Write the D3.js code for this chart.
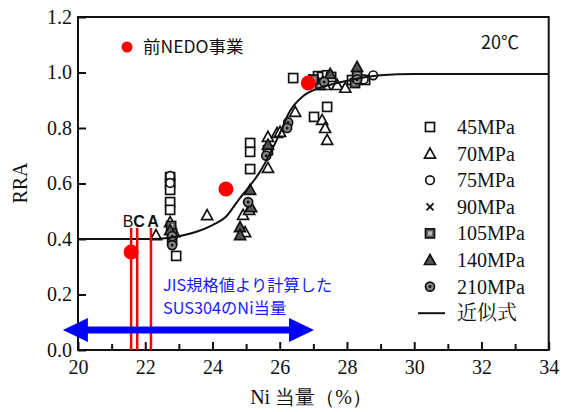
<!DOCTYPE html>
<html><head><meta charset="utf-8">
<script src="https://cdn.jsdelivr.net/npm/d3@7"></script>
<style>body{margin:0;background:#fff}svg{display:block}</style>
</head><body>
<svg id="c" width="567" height="412"></svg>
<script>
// ---- data ----
const xTicks = [20,21,22,23,24,25,26,27,28,29,30,31,32,33,34];
const yTicks = [0,0.2,0.4,0.6,0.8,1.0,1.2];
const s45 = [[22.74,0.623],[22.74,0.602],[22.74,0.577],[22.74,0.533],[22.74,0.505],[22.92,0.339],[25.12,0.746],[25.12,0.714],[25.12,0.652],[26.4,0.98],[27.14,0.987],[27.26,0.984],[27.41,0.99],[27.53,0.984],[27.41,0.876],[27.02,0.84],[28.15,0.973],[28.54,0.973]];
const s70 = [[22.32,0.414],[22.74,0.461],[22.86,0.425],[23.84,0.486],[24.91,0.487],[24.97,0.425],[25.09,0.505],[25.65,0.656],[25.65,0.768],[25.92,0.782],[26.01,0.786],[26.46,0.858],[27.35,0.955],[27.26,0.829],[27.35,0.80],[27.41,0.757],[27.71,0.955],[27.95,0.945]];
const s75 = [[22.74,0.627],[22.74,0.602],[28.78,0.99],[28.5,0.975]];
const s90 = [[22.8,0.40],[27.2,0.975]];
const s105 = [[22.8,0.396],[22.77,0.447],[25.65,0.72],[27.2,0.955],[28.24,0.962],[28.3,0.99],[27.0,0.975],[22.8,0.42]];
const s140 = [[28.3,1.02],[25.12,0.577],[24.82,0.443],[24.82,0.414],[25.65,0.74],[22.74,0.432],[27.5,0.995],[25.15,0.515]];
const s210 = [[26.25,0.82],[26.22,0.80],[22.8,0.378],[25.06,0.533],[25.6,0.70],[27.32,0.966],[28.3,0.975],[22.8,0.41]];
const fitX = [20,21,22,22.5,23,23.5,24,24.4,24.8,25.1,25.4,25.7,26.0,26.3,26.7,27.2,27.8,28.4,29,30,32,34];
const fitY = [0.40,0.40,0.40,0.402,0.41,0.425,0.45,0.48,0.545,0.59,0.64,0.705,0.78,0.86,0.915,0.945,0.965,0.98,0.99,0.995,0.995,0.995];
const nedo = [[21.58,0.353],[24.4,0.58],[26.85,0.962]];
const refLabels = ["B","C","A"];
const refX = [21.58,21.76,22.17];
const refTop = 0.44;
const arrowRange = [19.55,27.02];
const arrowY = 0.072;
const legendLabels = ["45MPa","70MPa","75MPa","90MPa","105MPa","140MPa","210MPa","近似式"];

// ---- chart ----
const svg = d3.select("#c");
const L=78,R=548.7,T=17,B=350;
const x = d3.scaleLinear().domain([20,34]).range([L,R]);
const y = d3.scaleLinear().domain([0,1.2]).range([B,T]);
const serif = "'Liberation Serif','Times New Roman',serif";
const sans = "'Noto Sans CJK JP','Noto Sans',sans-serif";

// frame
svg.append("rect").attr("x",L).attr("y",T).attr("width",R-L).attr("height",B-T)
  .attr("fill","none").attr("stroke","#111").attr("stroke-width",2);

// axes
const xa = svg.append("g").attr("transform",`translate(0,${B})`)
  .call(d3.axisBottom(x).tickValues(xTicks).tickSize(0).tickFormat(d=>d%2===0?d:""));
xa.select(".domain").remove();
xa.selectAll(".tick text").attr("font-family",serif).attr("font-size",20).attr("fill","#111").attr("dy","1.05em");
xa.selectAll(".tick").append("line").attr("y1",0).attr("y2",d=>d%2===0?-8:-6).attr("stroke","#111").attr("stroke-width",2);
const ya = svg.append("g").attr("transform",`translate(${L},0)`)
  .call(d3.axisLeft(y).tickValues(yTicks).tickSize(0).tickFormat(d3.format(".1f")));
ya.select(".domain").remove();
ya.selectAll(".tick text").attr("font-family",serif).attr("font-size",20).attr("fill","#111").attr("dx","-3");
ya.selectAll(".tick").append("line").attr("x1",0).attr("x2",8).attr("stroke","#111").attr("stroke-width",2);

svg.append("text").attr("x",311).attr("y",404).attr("text-anchor","middle")
  .attr("font-family",serif).attr("font-size",20).attr("fill","#111").text("Ni 当量（%）");
svg.append("text").attr("transform","translate(27,183) rotate(-90)").attr("text-anchor","middle")
  .attr("font-family",serif).attr("font-size",20).attr("fill","#111").text("RRA");

// markers
function drawMarker(g,type,cx,cy){
  if(type==="sq") g.append("rect").attr("x",cx-4.5).attr("y",cy-4.5).attr("width",9).attr("height",9).attr("fill","#fff").attr("stroke","#111").attr("stroke-width",1.7);
  if(type==="tri") g.append("path").attr("d",`M${cx},${cy-5.5}L${cx+5.5},${cy+4.5}L${cx-5.5},${cy+4.5}Z`).attr("fill","#fff").attr("stroke","#111").attr("stroke-width",1.7);
  if(type==="circ") g.append("circle").attr("cx",cx).attr("cy",cy).attr("r",4.3).attr("fill","#fff").attr("stroke","#111").attr("stroke-width",1.7);
  if(type==="x") g.append("path").attr("d",`M${cx-3.5},${cy-3.5}L${cx+3.5},${cy+3.5}M${cx+3.5},${cy-3.5}L${cx-3.5},${cy+3.5}`).attr("stroke","#111").attr("stroke-width",1.8);
  if(type==="fsq"){ g.append("rect").attr("x",cx-4.5).attr("y",cy-4.5).attr("width",9).attr("height",9).attr("fill","#666").attr("stroke","#111").attr("stroke-width",1.7);
    g.append("rect").attr("x",cx-2).attr("y",cy-2).attr("width",4).attr("height",4).attr("fill","#bbb");}
  if(type==="ftri") g.append("path").attr("d",`M${cx},${cy-5.5}L${cx+5.5},${cy+4.5}L${cx-5.5},${cy+4.5}Z`).attr("fill","#555").attr("stroke","#111").attr("stroke-width",1.7);
  if(type==="dcirc"){ g.append("circle").attr("cx",cx).attr("cy",cy).attr("r",4.5).attr("fill","#888").attr("stroke","#111").attr("stroke-width",1.7);
    g.append("circle").attr("cx",cx).attr("cy",cy).attr("r",1.5).attr("fill","#111");}
}
const series = [[s45,"sq"],[s70,"tri"],[s75,"circ"],[s90,"x"],[s105,"fsq"],[s140,"ftri"],[s210,"dcirc"]];
const mg = svg.append("g");
series.forEach(([data,type])=>data.forEach(d=>drawMarker(mg,type,x(d[0]),y(d[1]))));

// fit curve
const fit = fitX.map((v,i)=>[v,fitY[i]]);
svg.append("path").datum(fit).attr("fill","none").attr("stroke","#111").attr("stroke-width",2)
  .attr("d",d3.line().x(d=>x(d[0])).y(d=>y(d[1])).curve(d3.curveMonotoneX));

// legend
const lg = svg.append("g");
const types = ["sq","tri","circ","x","fsq","ftri","dcirc"];
legendLabels.forEach((t,i)=>{
  const ly = 127 + i*26.6;
  if(i<7) drawMarker(lg,types[i],430,ly);
  else lg.append("line").attr("x1",418).attr("x2",445).attr("y1",ly).attr("y2",ly).attr("stroke","#111").attr("stroke-width",2);
  lg.append("text").attr("x",457).attr("y",ly).attr("dy","0.35em").attr("font-family",i<7?serif:"'Noto Serif CJK JP','Noto Sans CJK JP',serif")
    .attr("font-size",20).attr("fill","#111").text(t);
});

svg.append("text").attr("x",481).attr("y",49).attr("font-family",sans).attr("font-size",18).attr("fill","#111").text("20℃");

// red reference lines
refX.forEach((v,i)=>{
  svg.append("line").attr("x1",x(v)).attr("x2",x(v)).attr("y1",y(0)).attr("y2",y(refTop)).attr("stroke","#ff0000").attr("stroke-width",2.5);
});
const lf = "'Liberation Sans',Arial,sans-serif";
svg.append("text").attr("x",128).attr("y",227).attr("text-anchor","middle").attr("font-family",lf).attr("font-size",16).attr("fill","#111").text(refLabels[0]);
svg.append("text").attr("x",139).attr("y",227).attr("text-anchor","middle").attr("font-family",lf).attr("font-weight","bold").attr("font-size",16).attr("fill","#111").text(refLabels[1]);
svg.append("text").attr("x",153).attr("y",227).attr("text-anchor","middle").attr("font-family",lf).attr("font-weight","bold").attr("font-size",16).attr("fill","#111").text(refLabels[2]);

// NEDO dots
nedo.forEach(d=>svg.append("circle").attr("cx",x(d[0])).attr("cy",y(d[1])).attr("r",7.5).attr("fill","#ff0000"));
svg.append("circle").attr("cx",127).attr("cy",47).attr("r",5.5).attr("fill","#ff0000");
svg.append("text").attr("x",143).attr("y",47).attr("dy","0.35em").attr("font-family",sans).attr("font-size",17.5).attr("fill","#111").text("前NEDO事業");

// blue annotation
svg.append("text").attr("x",163).attr("y",285).attr("dy","0.35em").attr("font-family",sans).attr("font-size",16.3).attr("fill","#1a1aff").text("JIS規格値より計算した");
svg.append("text").attr("x",163).attr("y",308).attr("dy","0.35em").attr("font-family",sans).attr("font-size",16.3).attr("fill","#1a1aff").text("SUS304のNi当量");
const ax0=x(arrowRange[0]), ax1=x(arrowRange[1]), ay=y(arrowY);
svg.append("path").attr("fill","#0000ff")
  .attr("d",`M${ax0},${ay}L${ax0+25},${ay-12}L${ax0+25},${ay-3.5}L${ax1-25},${ay-3.5}L${ax1-25},${ay-12}L${ax1},${ay}L${ax1-25},${ay+12}L${ax1-25},${ay+3.5}L${ax0+25},${ay+3.5}L${ax0+25},${ay+12}Z`);
</script>
</body></html>
